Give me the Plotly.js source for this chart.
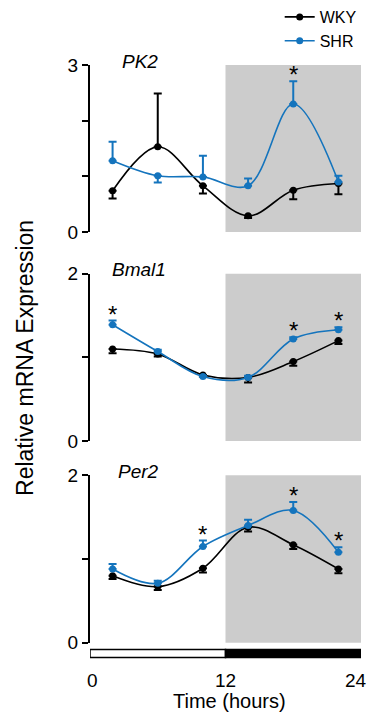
<!DOCTYPE html>
<html>
<head>
<meta charset="utf-8">
<script src="https://cdn.plot.ly/plotly-3.0.1.min.js"></script>
<style>html,body{margin:0;padding:0;background:#fff;}#chart{width:370px;height:713px;}</style>
</head>
<body>
<div id="chart"></div>
<script>
// ---- data ----
const hours = [2, 6, 10, 14, 18, 22];
const genes = ["PK2", "Bmal1", "Per2"];
const yMax = [3, 2, 2];

const pk2WKY = [0.74, 1.53, 0.83, 0.29, 0.75, 0.87];
const pk2WKYerrUp = [0, 0.96, 0, 0, 0, 0];
const pk2WKYerrDown = [0.14, 0, 0.14, 0.04, 0.16, 0.19];
const pk2SHR = [1.28, 1.01, 0.99, 0.83, 2.30, 0.90];
const pk2SHRerrUp = [0.34, 0, 0.38, 0.13, 0.41, 0.11];
const pk2SHRerrDown = [0, 0.12, 0, 0, 0, 0];

const bmalWKY = [1.10, 1.04, 0.79, 0.76, 0.95, 1.20];
const bmalWKYerrUp = [0, 0, 0, 0, 0, 0];
const bmalWKYerrDown = [0.05, 0.03, 0.02, 0.06, 0.05, 0.04];
const bmalSHR = [1.39, 1.07, 0.77, 0.76, 1.22, 1.33];
const bmalSHRerrUp = [0.05, 0.02, 0.01, 0.02, 0.02, 0.03];
const bmalSHRerrDown = [0, 0, 0, 0, 0, 0];

const per2WKY = [0.80, 0.67, 0.89, 1.38, 1.17, 0.88];
const per2WKYerrUp = [0, 0, 0, 0, 0, 0];
const per2WKYerrDown = [0.04, 0.04, 0.05, 0.05, 0.05, 0.05];
const per2SHR = [0.88, 0.71, 1.15, 1.40, 1.58, 1.08];
const per2SHRerrUp = [0.06, 0.03, 0.07, 0.07, 0.10, 0.06];
const per2SHRerrDown = [0, 0, 0, 0, 0, 0];

const sigHours = [[18], [2, 18, 22], [10, 18, 22]];
const lightPhase = [0, 12];
const darkPhase = [12, 24];
const xTicks = [0, 12, 24];
const xTickLabels = ["0", "12", "24"];

// ---- build ----
const black = "#000000";
const blue = "#1474bd";
const font = "Liberation Sans, Arial, sans-serif";
const W = 713;
const domains = [[1 - 232 / W, 1 - 65 / W], [1 - 441 / W, 1 - 273.7 / W], [1 - 642.7 / W, 1 - 475.3 / W]];
const labelX = [0.11, 0.075, 0.095];
const tickShift = [2, 0, -5];

const wky = [pk2WKY, bmalWKY, per2WKY], wkyU = [pk2WKYerrUp, bmalWKYerrUp, per2WKYerrUp], wkyD = [pk2WKYerrDown, bmalWKYerrDown, per2WKYerrDown];
const shr = [pk2SHR, bmalSHR, per2SHR], shrU = [pk2SHRerrUp, bmalSHRerrUp, per2SHRerrUp], shrD = [pk2SHRerrDown, bmalSHRerrDown, per2SHRerrDown];

const traces = [];
const layout = {
  width: 370, height: 713,
  margin: {l: 90, r: 9, t: 0, b: 0},
  paper_bgcolor: "#fff", plot_bgcolor: "rgba(0,0,0,0)",
  font: {family: font, color: "#000"},
  showlegend: true,
  legend: {x: 0.70, y: 1.0, xanchor: "left", yanchor: "top", font: {size: 16, family: font},
           bgcolor: "rgba(0,0,0,0)", itemwidth: 30, tracegroupgap: 0},
  shapes: [], annotations: []
};

for (let i = 0; i < 3; i++) {
  const s = i === 0 ? "" : String(i + 1);
  const xa = "x" + s, ya = "y" + s;
  const mk = (name, y, up, down, color, show) => ({
    type: "scatter", mode: "lines+markers", x: hours, y: y, name: name,
    xaxis: xa, yaxis: ya, showlegend: show, legendgroup: name,
    line: {color: color, width: 1.6, shape: "spline", smoothing: 1},
    marker: {color: color, size: 7},
    error_y: {type: "data", symmetric: false, array: up, arrayminus: down, color: color, thickness: 2, width: 4}
  });
  traces.push(mk("WKY", wky[i], wkyU[i], wkyD[i], black, i === 0));
  traces.push(mk("SHR", shr[i], shrU[i], shrD[i], blue, i === 0));

  const tv = [], tt = [];
  for (let v = 0; v <= yMax[i]; v++) { tv.push(v); tt.push(v === 0 || v === yMax[i] ? String(v) : ""); }
  layout["yaxis" + s] = {
    domain: domains[i], range: [0, yMax[i]], anchor: xa,
    showline: true, linecolor: "#000", linewidth: 2, ticks: "outside", ticklen: 6, tickwidth: 2, tickcolor: "#000",
    tickvals: tv, ticktext: tt, showgrid: false, zeroline: false,
    tickfont: {size: 19, family: font}, fixedrange: true
  };
  layout["xaxis" + s] = {
    domain: [0, 1], range: [0, 24], anchor: ya, showgrid: false, zeroline: false, showline: false,
    ticks: "", showticklabels: false, fixedrange: true
  };
  // dark-phase shading
  layout.shapes.push({type: "rect", xref: xa, yref: ya + " domain", x0: darkPhase[0], x1: darkPhase[1], y0: 0, y1: 1,
    fillcolor: "#cccccc", line: {width: 0}, layer: "below"});
  // gene label
  layout.annotations.push({text: "<i>" + genes[i] + "</i>", xref: xa + " domain", yref: ya + " domain", x: labelX[i], y: 1.0,
    xanchor: "left", yanchor: "middle", yshift: 4, showarrow: false, font: {size: 19, family: font}});
  // significance stars
  sigHours[i].forEach(h => {
    const k = hours.indexOf(h);
    const top = Math.max(shr[i][k] + shrU[i][k], wky[i][k] + wkyU[i][k]);
    layout.annotations.push({text: "*", xref: xa, yref: ya, x: h, y: top, xanchor: "center", yanchor: "bottom",
      yshift: -9, showarrow: false, font: {size: 24, family: font}});
  });
}

// light/dark bar under the bottom panel
const barTop = 1 - 649.5 / W, barBot = 1 - 657.5 / W;
layout.shapes.push({type: "rect", xref: "x3", yref: "paper", x0: lightPhase[0], x1: lightPhase[1], y0: barBot, y1: barTop,
  fillcolor: "#ffffff", line: {color: "#000", width: 1.5}});
layout.shapes.push({type: "rect", xref: "x3", yref: "paper", x0: darkPhase[0], x1: darkPhase[1], y0: barBot, y1: barTop,
  fillcolor: "#000000", line: {color: "#000", width: 1.5}});

// x tick labels and title
xTicks.forEach((t, j) => {
  layout.annotations.push({text: xTickLabels[j], xref: "x3", yref: "paper", x: t, y: 1 - 680 / W, xshift: tickShift[j],
    xanchor: "center", yanchor: "middle", showarrow: false, font: {size: 19, family: font}});
});
layout.annotations.push({text: "Time (hours)", xref: "x3", yref: "paper", x: 12, y: 0, xshift: 4,
  xanchor: "center", yanchor: "bottom", showarrow: false, font: {size: 20, family: font}, borderpad: 0});
layout.annotations.push({text: "Relative mRNA Expression", xref: "paper", yref: "paper", x: -0.24, y: 1 - 358 / W,
  xanchor: "center", yanchor: "middle", textangle: -90, showarrow: false, font: {size: 23, family: font}});

Plotly.newPlot("chart", traces, layout, {displayModeBar: false, staticPlot: true});
</script>
</body>
</html>
